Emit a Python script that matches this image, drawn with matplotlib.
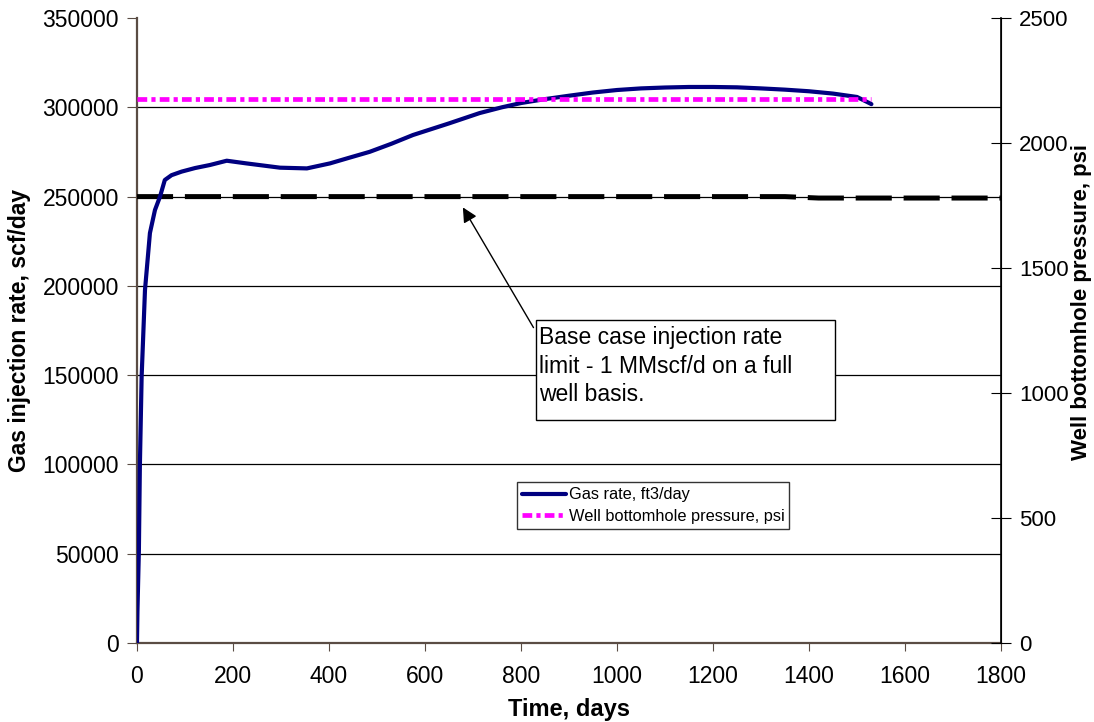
import matplotlib
matplotlib.use("Agg")
import matplotlib.pyplot as plt
from matplotlib.patches import Rectangle

plt.rcParams.update({
    "font.family": ["Liberation Sans", "DejaVu Sans"],
    "lines.scale_dashes": False,
})

# ---- DATA ----
rate_days = [0, 1, 4, 6, 9.7, 16.7, 27, 37.5, 48, 58, 72, 93, 121, 152, 187,
             228, 298, 354, 402, 440, 485, 530, 575, 650, 714, 760, 800, 850,
             900, 950, 1000, 1050, 1100, 1150, 1200, 1250, 1300, 1350, 1400,
             1450, 1500, 1530]
gas_rate = [0, 18000, 52000, 98500, 149000, 197700, 229600, 242500, 250000,
            259300, 262000, 264000, 266000, 267700, 270100, 268600, 266200,
            265800, 268600, 271600, 275100, 279600, 284500, 291000, 296800,
            300000, 302400, 304600, 306500, 308300, 309700, 310600, 311100,
            311400, 311400, 311200, 310600, 309900, 309000, 307700, 305800,
            301800]

pres_days = [0, 1530]
bhp = [2176, 2176]

limit_days = [0, 1350, 1420, 1800]
limit_rate = [250000, 250000, 249200, 249200]

x_ticks = list(range(0, 2000, 200))
left_ticks = list(range(0, 400000, 50000))
right_ticks = list(range(0, 3000, 500))

# ---- FIGURE ----
fig = plt.figure(figsize=(10.94, 7.22), dpi=100)
ax = fig.add_axes([0.1252, 0.1094, 0.7898, 0.8656])
ax2 = ax.twinx()

ax.plot(limit_days, limit_rate, color="black", lw=3.6, dashes=(26, 8.5), zorder=3)
l1, = ax.plot(rate_days, gas_rate, color="#000080", lw=3, zorder=4,
              solid_capstyle="round", label="Gas rate, ft3/day")
l2, = ax2.plot(pres_days, bhp, color="#FF00FF", lw=3.4, dashes=(7, 3, 3, 3),
               label="Well bottomhole pressure, psi")

ax.set_xlim(0, 1800)
ax.set_ylim(0, 350000)
ax2.set_ylim(0, 2500)
ax.set_xticks(x_ticks)
ax.set_yticks(left_ticks)
ax2.set_yticks(right_ticks)

ax.yaxis.grid(True, color="black", lw=0.9)
ax.get_ygridlines()[-1].set_visible(False)
ax.set_axisbelow(True)

for a in (ax, ax2):
    a.spines["top"].set_visible(False)
ax.spines["left"].set_color("#5a4c44")
ax.spines["bottom"].set_color("#5a4c44")
ax.spines["left"].set_linewidth(1.6)
ax.spines["bottom"].set_linewidth(1.6)
ax2.spines["left"].set_visible(False)
ax2.spines["bottom"].set_visible(False)
ax2.spines["right"].set_linewidth(1.2)

ax.tick_params(axis="y", labelsize=16.5, length=7, pad=6, direction="out", color="#5a4c44")
ax.tick_params(axis="x", labelsize=16.5, length=6, pad=10, direction="out", color="#5a4c44")
ax2.tick_params(axis="y", labelsize=16, length=14, pad=6, direction="inout")

ax.set_xlabel("Time, days", fontsize=17, fontweight="bold", labelpad=7)
ax.set_ylabel("Gas injection rate, scf/day", fontsize=16.5, fontweight="bold", labelpad=8)
ax2.set_ylabel("Well bottomhole pressure, psi", fontsize=16, fontweight="bold")
ax2.yaxis.set_label_coords(1.0805, 0.545)

# ---- ANNOTATION ----
ax2.add_patch(Rectangle((831, 124900 / 140), 623, 56000 / 140, transform=ax2.transData,
                        facecolor="white", edgecolor="black", lw=1, zorder=5))
ax2.text(838, 177300 / 140, "Base case injection rate\nlimit - 1 MMscf/d on a full\nwell basis.",
         fontsize=16.5, va="top", ha="left", linespacing=1.3, zorder=6)
ax2.annotate("", xy=(676, 245300 / 140), xytext=(829, 175300 / 140),
             arrowprops=dict(arrowstyle="-|>", color="black", lw=1, mutation_scale=22),
             zorder=6)

leg = ax2.legend(handles=[l1, l2], loc="upper left", bbox_to_anchor=(0.44, 0.257),
                 fontsize=11.8, frameon=True, fancybox=False, borderpad=0.3,
                 handlelength=2.7, handletextpad=0.15, labelspacing=0.42,
                 borderaxespad=0)
leg.get_frame().set_edgecolor("black")
leg.get_frame().set_linewidth(1)

fig.savefig("out.png", dpi=100)
